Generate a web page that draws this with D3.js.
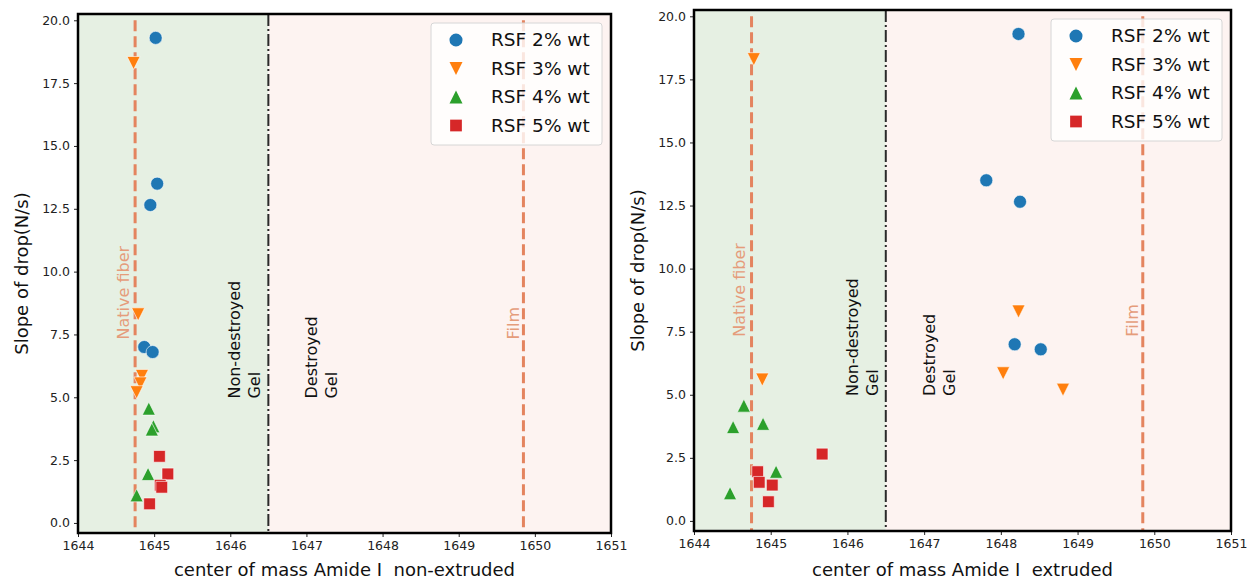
<!DOCTYPE html>
<html>
<head>
<meta charset="utf-8">
<script src="https://cdn.jsdelivr.net/npm/d3@7"></script>
<style>
  body { margin: 0; background: #fff; }
  text { font-family: "DejaVu Sans", sans-serif; }
</style>
</head>
<body>
<script>
// series names and tick values
var seriesNames = ["RSF 2% wt", "RSF 3% wt", "RSF 4% wt", "RSF 5% wt"];
var seriesColors = ["#1f77b4", "#ff7f0e", "#2ca02c", "#d62728"];
var xTicks = [1644, 1645, 1646, 1647, 1648, 1649, 1650, 1651];
var yTicks = [0, 2.5, 5, 7.5, 10, 12.5, 15, 17.5, 20];

// left panel: non-extruded  [center of mass, slope]
var nonExt2 = [[1645.02, 19.3], [1645.04, 13.5], [1644.95, 12.65], [1644.87, 7.0], [1644.98, 6.8]];
var nonExt3 = [[1644.73, 18.3], [1644.79, 8.3], [1644.84, 5.85], [1644.82, 5.55], [1644.77, 5.2]];
var nonExt4 = [[1644.93, 4.55], [1644.99, 3.85], [1644.97, 3.72], [1644.92, 1.95], [1644.77, 1.1]];
var nonExt5 = [[1645.07, 2.65], [1645.18, 1.95], [1645.08, 1.5], [1645.1, 1.42], [1644.94, 0.76]];

// right panel: extruded
var ext2 = [[1648.23, 19.3], [1647.81, 13.5], [1648.25, 12.65], [1648.18, 7.0], [1648.52, 6.8]];
var ext3 = [[1644.78, 18.3], [1648.23, 8.3], [1648.03, 5.85], [1644.89, 5.6], [1648.81, 5.2]];
var ext4 = [[1644.65, 4.57], [1644.51, 3.72], [1644.9, 3.85], [1645.07, 1.95], [1644.47, 1.1]];
var ext5 = [[1645.67, 2.65], [1644.83, 1.95], [1644.85, 1.53], [1645.02, 1.42], [1644.97, 0.76]];

// reference lines and region labels
var nativeFiber = 1644.75, gelBoundary = 1646.5, film = 1649.85;

var svg = d3.select("body")
    .append("svg")
    .attr("width", 1249)
    .attr("height", 579)
    .style("display", "block");

// matplotlib-like markers
var triDown = { draw: function(c, s) { var r = Math.sqrt(s) / 2; c.moveTo(0, r); c.lineTo(-r, -r); c.lineTo(r, -r); c.closePath(); } };
var triUp = { draw: function(c, s) { var r = Math.sqrt(s) / 2; c.moveTo(0, -r); c.lineTo(-r, r); c.lineTo(r, r); c.closePath(); } };
var square = { draw: function(c, s) { var r = Math.sqrt(s) / 2 * 0.9; c.rect(-r, -r, 2 * r, 2 * r); } };
var circle = { draw: function(c, s) { var r = Math.sqrt(s) / 2; c.moveTo(r, 0); c.arc(0, 0, r, 0, 2 * Math.PI); } };
var shapes = [circle, triDown, triUp, square];

function drawPanel(p) {
    var x = d3.scaleLinear().domain([1644, 1651]).range([p.left, p.right]);
    var y = d3.scaleLinear().domain([-0.4, 20.25]).range([p.bottom, p.top]);
    var g = svg.append("g");

    // shaded regions
    g.append("rect")
        .attr("x", x(1644)).attr("y", p.top)
        .attr("width", x(gelBoundary) - x(1644)).attr("height", p.bottom - p.top)
        .attr("fill", "#e6f0e3");
    g.append("rect")
        .attr("x", x(gelBoundary)).attr("y", p.top)
        .attr("width", x(1651) - x(gelBoundary)).attr("height", p.bottom - p.top)
        .attr("fill", "#fdf3f1");

    // vertical lines
    [nativeFiber, film].forEach(function(v) {
        g.append("line")
            .attr("x1", x(v)).attr("x2", x(v))
            .attr("y1", y(20)).attr("y2", p.bottom)
            .attr("stroke", "#e4845f")
            .attr("stroke-width", 3)
            .attr("stroke-dasharray", "11,5");
    });
    g.append("line")
        .attr("x1", x(gelBoundary)).attr("x2", x(gelBoundary))
        .attr("y1", p.top).attr("y2", p.bottom)
        .attr("stroke", "#2a2a2a")
        .attr("stroke-width", 2)
        .attr("stroke-dasharray", "12,3,2,3");

    // rotated region labels
    function vtext(lines, xv, yv, color) {
        lines.forEach(function(t, i) {
            g.append("text")
                .attr("transform", "translate(" + (x(xv) + i * 20) + "," + y(yv) + ") rotate(-90)")
                .attr("dy", "0.35em")
                .attr("font-size", "16px")
                .attr("fill", color)
                .text(t);
        });
    }
    vtext(["Native fiber"], 1644.59, 7.3, "#e59c7b");
    vtext(["Film"], 1649.72, 7.3, "#e59c7b");
    vtext(["Non-destroyed", "Gel"], 1646.06, 4.95, "#111");
    vtext(["Destroyed", "Gel"], 1647.07, 4.95, "#111");

    // points
    p.series.forEach(function(data, i) {
        g.selectAll(null)
            .data(data)
            .enter()
            .append("path")
            .attr("d", d3.symbol().type(shapes[i]).size(170))
            .attr("transform", function(d) { return "translate(" + x(d[0]) + "," + y(d[1]) + ")"; })
            .attr("fill", seriesColors[i])
            .attr("stroke", "#fff")
            .attr("stroke-width", 0.6);
    });

    // legend
    var lx = p.right - 180, ly = p.top + 9;
    var lg = g.append("g").attr("transform", "translate(" + lx + "," + ly + ")");
    lg.append("rect")
        .attr("width", 171).attr("height", 122)
        .attr("rx", 3)
        .attr("fill", "#fff").attr("fill-opacity", 0.8)
        .attr("stroke", "#d6d6d6");
    seriesNames.forEach(function(name, i) {
        var ry = 17 + i * 28.5;
        lg.append("path")
            .attr("d", d3.symbol().type(shapes[i]).size(170))
            .attr("transform", "translate(25," + ry + ")")
            .attr("fill", seriesColors[i]);
        lg.append("text")
            .attr("x", 60).attr("y", ry)
            .attr("dy", "0.35em")
            .attr("font-size", "18.5px")
            .attr("fill", "#111")
            .text(name);
    });

    // axes
    var xAxis = g.append("g")
        .attr("transform", "translate(0," + p.bottom + ")")
        .call(d3.axisBottom(x).tickValues(xTicks).tickFormat(d3.format("d")).tickSize(4).tickPadding(4));
    var yAxis = g.append("g")
        .attr("transform", "translate(" + p.left + ",0)")
        .call(d3.axisLeft(y).tickValues(yTicks).tickFormat(d3.format(".1f")).tickSize(4).tickPadding(4));
    [xAxis, yAxis].forEach(function(a) {
        a.select(".domain").remove();
        a.selectAll("text").attr("font-size", "12.5px").attr("fill", "#222").style("font-family", "DejaVu Sans");
        a.selectAll("line").attr("stroke", "#222");
    });

    // frame
    g.append("rect")
        .attr("x", p.left).attr("y", p.top)
        .attr("width", p.right - p.left).attr("height", p.bottom - p.top)
        .attr("fill", "none")
        .attr("stroke", "#000")
        .attr("stroke-width", 2.5);

    // axis titles
    g.append("text")
        .attr("x", (p.left + p.right) / 2).attr("y", 576)
        .attr("text-anchor", "middle")
        .attr("font-size", "18px")
        .attr("fill", "#111")
        .style("white-space", "pre")
        .text(p.xlabel);
    g.append("text")
        .attr("transform", "translate(" + (p.left - 50) + "," + ((p.top + p.bottom) / 2) + ") rotate(-90)")
        .attr("text-anchor", "middle")
        .attr("font-size", "18px")
        .attr("fill", "#111")
        .text("Slope of drop(N/s)");
}

drawPanel({ left: 78, right: 611, top: 14, bottom: 533,
    xlabel: "center of mass Amide I  non-extruded",
    series: [nonExt2, nonExt3, nonExt4, nonExt5] });
drawPanel({ left: 694, right: 1231, top: 10, bottom: 531,
    xlabel: "center of mass Amide I  extruded",
    series: [ext2, ext3, ext4, ext5] });
</script>
</body>
</html>
